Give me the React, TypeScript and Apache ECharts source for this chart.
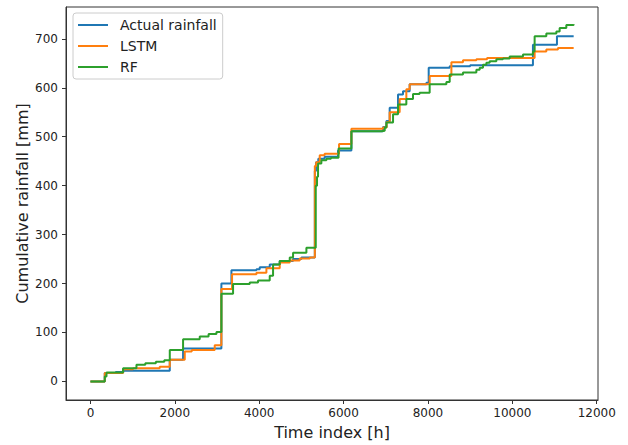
import React, { useEffect, useRef } from "react";
import * as echarts from "echarts";

const seriesNames = ["Actual rainfall", "LSTM", "RF"];
const seriesColors = ["#1f77b4", "#ff7f0e", "#2ca02c"];

const xTickValues = [0, 2000, 4000, 6000, 8000, 10000, 12000];
const yTickValues = [0, 100, 200, 300, 400, 500, 600, 700];

// [time index (h), cumulative rainfall (mm)] — value reached at that time (step)
const actualRainfall = [
  [0, 0], [339, 17], [600, 19], [780, 22], [1880, 44], [2195, 67], [3103, 200], [3341, 227],
  [3934, 229], [4012, 233], [4249, 239], [4486, 246], [4801, 250], [5000, 253], [5318, 430],
  [5345, 448], [5400, 455], [5550, 459], [5868, 472], [6185, 511], [6934, 520], [7014, 532],
  [7092, 559], [7290, 586], [7408, 593], [7566, 607], [7962, 610], [8017, 641], [8515, 644],
  [9000, 646], [10488, 688], [11057, 705], [11453, 705],
];

const lstmRainfall = [
  [0, 0], [339, 17], [773, 25], [1010, 27], [1642, 30], [1880, 44], [2235, 61], [2400, 64],
  [2945, 74], [3103, 189], [3356, 219], [3934, 222], [4170, 231], [4486, 243], [4723, 247],
  [4960, 251], [5200, 253], [5318, 440], [5350, 448], [5434, 462], [5550, 465], [5892, 485],
  [6185, 516], [6935, 519], [7020, 530], [7092, 550], [7329, 577], [7487, 597], [7566, 607],
  [8040, 624], [8555, 652], [8830, 656], [9147, 658], [9400, 661], [10528, 674], [10805, 678],
  [11081, 681], [11453, 681],
];

const rfRainfall = [
  [0, 0], [339, 10], [380, 18], [773, 27], [1090, 34], [1300, 37], [1550, 40], [1750, 43],
  [1880, 64], [2195, 86], [2590, 92], [2800, 97], [2986, 101], [3103, 179], [3380, 199],
  [3775, 202], [3972, 206], [4249, 216], [4328, 239], [4486, 246], [4723, 253], [4802, 263],
  [5118, 273], [5340, 400], [5370, 418], [5394, 445], [5473, 452], [5592, 455], [5700, 457],
  [5880, 476], [6185, 511], [6896, 512], [6975, 519], [7014, 529], [7172, 546], [7290, 566],
  [7487, 577], [7645, 587], [7800, 590], [8040, 607], [8436, 612], [8515, 627], [8830, 631],
  [9147, 637], [9226, 641], [9304, 647], [9384, 651], [9462, 654], [9621, 658], [9778, 660],
  [9936, 664], [10252, 668], [10488, 674], [10528, 705], [10805, 711], [11043, 715],
  [11121, 722], [11279, 728], [11453, 730],
];

const seriesData = [actualRainfall, lstmRainfall, rfRainfall];

const FONT = "DejaVu Sans";
const INK = "#222";

export default function App() {
  const ref = useRef<HTMLDivElement>(null);
  useEffect(() => {
    const chart = echarts.init(ref.current!, null, { renderer: "svg" });
    chart.setOption({
      animation: false,
      backgroundColor: "#fff",
      grid: {
        left: 66,
        right: 30,
        top: 7,
        bottom: 41,
        show: true,
        borderColor: "#333",
        borderWidth: 1,
        backgroundColor: "transparent",
      },
      legend: {
        orient: "vertical",
        left: 73,
        top: 13,
        data: seriesNames.map((name) => ({ name, icon: "rect" })),
        itemWidth: 30,
        itemHeight: 2,
        itemGap: 7,
        padding: [5, 6, 5, 5],
        backgroundColor: "rgba(255,255,255,0.8)",
        borderColor: "#ccc",
        borderWidth: 1,
        borderRadius: 3,
        textStyle: {
          fontSize: 14,
          lineHeight: 14,
          fontFamily: FONT,
          color: INK,
          padding: [0, 0, 0, 7],
        },
      },
      xAxis: {
        type: "value",
        min: -580,
        max: 12030,
        name: "Time index [h]",
        nameLocation: "middle",
        nameGap: 32,
        nameMoveOverlap: false,
        nameTextStyle: { fontSize: 16, fontFamily: FONT, color: INK, verticalAlign: "middle" },
        axisLine: { show: true, onZero: false, lineStyle: { color: "#333", width: 1 } },
        axisTick: {
          show: true,
          length: 4,
          customValues: xTickValues,
          lineStyle: { color: "#333", width: 1 },
        },
        axisLabel: {
          customValues: xTickValues,
          formatter: (v: number) => String(v),
          fontSize: 12,
          fontFamily: FONT,
          color: INK,
          margin: 7,
        },
        splitLine: { show: false },
      },
      yAxis: {
        type: "value",
        min: -38,
        max: 765,
        name: "Cumulative rainfall [mm]",
        nameLocation: "middle",
        nameGap: 44,
        nameMoveOverlap: false,
        nameTextStyle: { fontSize: 16, fontFamily: FONT, color: INK, verticalAlign: "middle" },
        axisLine: { show: true, onZero: false, lineStyle: { color: "#333", width: 1 } },
        axisTick: {
          show: true,
          length: 4,
          customValues: yTickValues,
          lineStyle: { color: "#333", width: 1 },
        },
        axisLabel: {
          customValues: yTickValues,
          formatter: (v: number) => String(v),
          fontSize: 12,
          fontFamily: FONT,
          color: INK,
          margin: 8,
        },
        splitLine: { show: false },
      },
      series: seriesNames.map((name, i) => ({
        name,
        type: "line",
        step: "end",
        symbol: "none",
        data: seriesData[i],
        color: seriesColors[i],
        lineStyle: { color: seriesColors[i], width: 2 },
        clip: true,
      })),
    });
    return () => chart.dispose();
  }, []);
  return (
    <div
      ref={ref}
      style={{ position: "absolute", left: 0, top: 0, width: 628, height: 445, background: "#fff" }}
    />
  );
}
